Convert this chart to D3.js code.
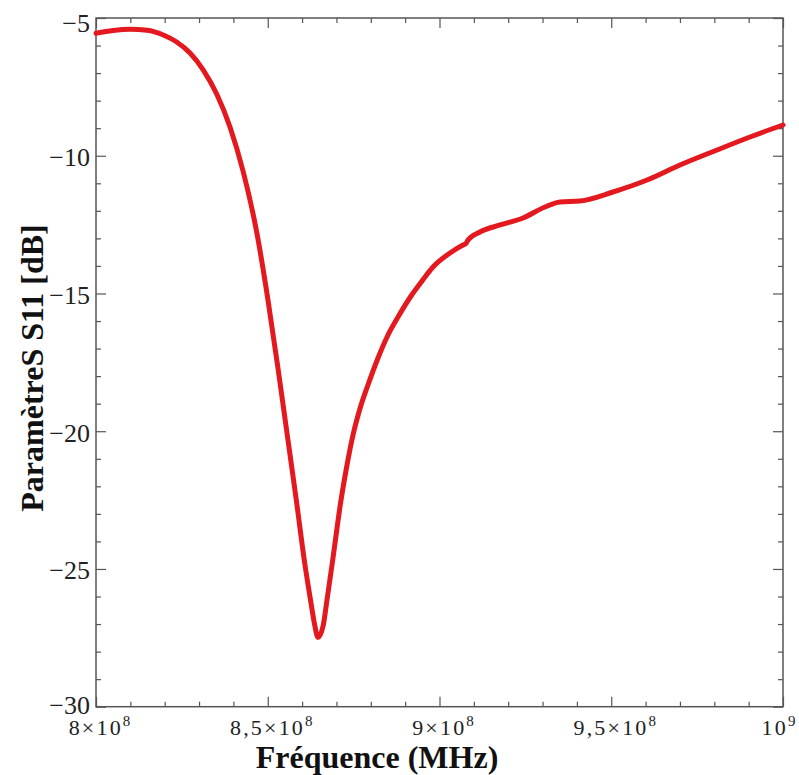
<!DOCTYPE html>
<html>
<head>
<meta charset="utf-8">
<script src="https://cdn.jsdelivr.net/npm/d3@7"></script>
<style>
  html, body { margin: 0; padding: 0; background: #fff; }
  svg { display: block; }
</style>
</head>
<body>
<svg id="chart" width="799" height="775"></svg>
<script>
// ---- data (frequency in MHz, S11 in dB) ----
const freqMHz = [
  800.0, 804.95, 809.9, 814.85, 819.59, 823.49, 827.37, 831.24, 835.14, 839.01,
  842.88, 846.78, 850.07, 852.93, 855.6, 858.31, 860.84, 862.45, 863.61, 864.63,
  866.17, 867.25, 868.91, 871.33, 873.07, 874.82, 876.86, 879.28, 882.1, 885.01,
  887.92, 891.71, 894.91, 898.11, 903.06, 906.84, 907.71, 908.3, 911.79, 917.61,
  924.31, 930.71, 935.08, 940.9, 950.51, 960.41, 970.01, 980.78, 990.39, 1000.0
];
const s11dB = [
  -5.555, -5.454, -5.41, -5.446, -5.617, -5.871, -6.271, -6.888, -7.759, -8.957,
  -10.59, -12.768, -15.237, -17.669, -20.065, -22.497, -24.856, -26.127, -27.0, -27.488,
  -27.034, -26.127, -24.675, -22.497, -21.226, -20.137, -19.175, -18.286, -17.342, -16.507,
  -15.854, -15.091, -14.547, -14.039, -13.531, -13.24, -13.186, -13.059, -12.768, -12.514,
  -12.26, -11.86, -11.679, -11.643, -11.316, -10.881, -10.336, -9.792, -9.32, -8.884
];

// ---- ticks ----
const xTickValues = [800, 850, 900, 950, 1000];
const xTickBase   = ["8×10", "8,5×10", "9×10", "9,5×10", "10"];
const xTickExp    = ["8", "8", "8", "8", "9"];
const yTickValues = [-5, -10, -15, -20, -25, -30];
const yTickLabels = ["−5", "−10", "−15", "−20", "−25", "−30"];
const xTitle = "Fréquence (MHz)";
const yTitle = "ParamètreS S11 [dB]";

// ---- layout ----
const L = 96, R = 783, T = 18, B = 706.7;
const svg = d3.select("#chart");
const x = d3.scaleLinear().domain([800, 1000]).range([L, R]);
const y = d3.scaleLinear().domain([-30, -5]).range([B, T]);

const frameColor = "#555";
const serif = "'Liberation Serif', 'Times New Roman', serif";

const xMinor = d3.range(800, 1001, 10).filter(v => !xTickValues.includes(v));
const yMinor = d3.range(-30, -4, 1).filter(v => !yTickValues.includes(v));

function styleAxis(g) {
  g.select(".domain").remove();
  g.selectAll("line").attr("stroke", frameColor).attr("stroke-width", 1.2);
  g.selectAll("text").remove();
}

// minor ticks (4 sides)
svg.append("g").attr("transform", `translate(0,${B})`)
  .call(d3.axisBottom(x).tickValues(xMinor).tickSize(-5))
  .call(styleAxis);
svg.append("g").attr("transform", `translate(0,${T})`)
  .call(d3.axisTop(x).tickValues(xMinor).tickSize(-5))
  .call(styleAxis);
svg.append("g").attr("transform", `translate(${L},0)`)
  .call(d3.axisLeft(y).tickValues(yMinor).tickSize(-5))
  .call(styleAxis);
svg.append("g").attr("transform", `translate(${R},0)`)
  .call(d3.axisRight(y).tickValues(yMinor).tickSize(-5))
  .call(styleAxis);

// major ticks (4 sides)
svg.append("g").attr("transform", `translate(0,${T})`)
  .call(d3.axisTop(x).tickValues(xTickValues).tickSize(-10))
  .call(styleAxis);
svg.append("g").attr("transform", `translate(${R},0)`)
  .call(d3.axisRight(y).tickValues(yTickValues).tickSize(-10))
  .call(styleAxis);

const xAxis = svg.append("g").attr("transform", `translate(0,${B})`)
  .call(d3.axisBottom(x).tickValues(xTickValues).tickSize(-10))
  .call(styleAxis);
xAxis.selectAll(".tick").each(function(d, i) {
  const t = d3.select(this).append("text")
    .attr("x", i === xTickValues.length - 1 ? -5 : 3)
    .attr("y", 28.5)
    .attr("text-anchor", "middle")
    .attr("fill", "#222")
    .style("font-family", serif)
    .style("font-size", "22px")
    .style("letter-spacing", "2.2px");
  t.append("tspan").text(xTickBase[i]);
  t.append("tspan").attr("dy", -9).style("font-size", "15px").style("letter-spacing", "0px").text(xTickExp[i]);
});

const yAxis = svg.append("g").attr("transform", `translate(${L},0)`)
  .call(d3.axisLeft(y).tickValues(yTickValues).tickSize(-10))
  .call(styleAxis);
const yOffsets = { "-5": 13, "-30": 7 };
yAxis.selectAll(".tick").append("text")
  .attr("x", -6)
  .attr("y", d => (yOffsets[d] !== undefined ? yOffsets[d] : 10))
  .attr("text-anchor", "end")
  .attr("fill", "#222")
  .style("font-family", serif)
  .style("font-size", "26px")
  .text((d, i) => yTickLabels[i]);

// frame
svg.append("rect")
  .attr("x", L).attr("y", T)
  .attr("width", R - L).attr("height", B - T)
  .attr("fill", "none")
  .attr("stroke", frameColor)
  .attr("stroke-width", 1.5);

// curve
const pts = freqMHz.map((f, i) => [f, s11dB[i]]);
svg.append("path")
  .datum(pts)
  .attr("fill", "none")
  .attr("stroke", "#e4181f")
  .attr("stroke-width", 5)
  .attr("stroke-linejoin", "round")
  .attr("stroke-linecap", "round")
  .attr("d", d3.line().x(d => x(d[0])).y(d => y(d[1])).curve(d3.curveMonotoneX));

// titles
svg.append("text")
  .attr("x", 377).attr("y", 768)
  .attr("text-anchor", "middle")
  .attr("fill", "#111")
  .style("font-family", serif)
  .style("font-weight", "bold")
  .style("font-size", "32px")
  .text(xTitle);

svg.append("text")
  .attr("transform", "translate(43,368) rotate(-90)")
  .attr("text-anchor", "middle")
  .attr("fill", "#111")
  .style("font-family", serif)
  .style("font-weight", "bold")
  .style("font-size", "32px")
  .text(yTitle);
</script>
</body>
</html>
